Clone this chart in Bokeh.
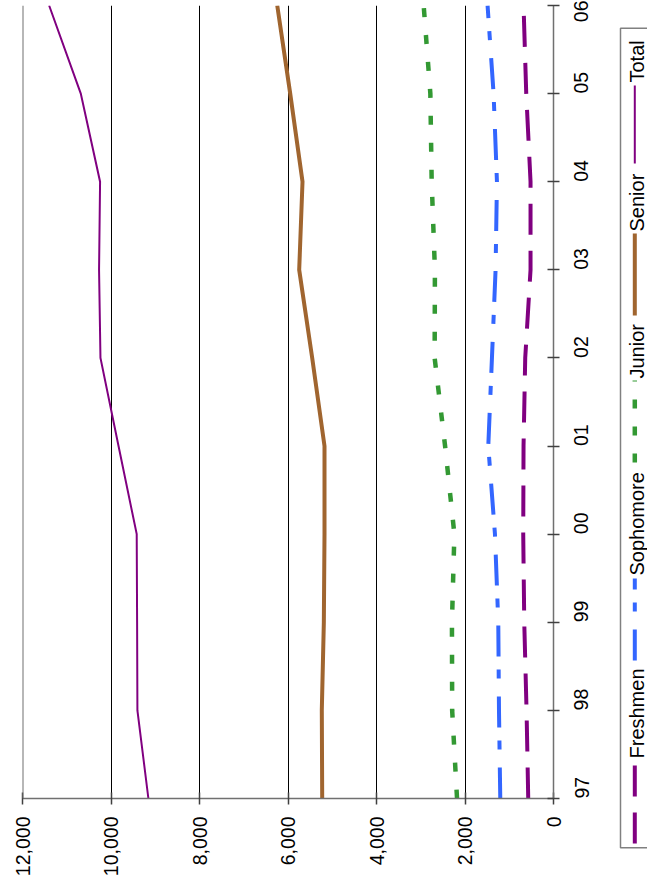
import math
from bokeh.plotting import figure
from bokeh.models import Range1d, FixedTicker, NumeralTickFormatter, Span
from bokeh.layouts import row
from bokeh.embed import file_html
from bokeh.resources import INLINE
from bokeh.core.properties import value

# ---- data ----
years = ["97", "98", "99", "00", "01", "02", "03", "04", "05", "06"]
freshmen = [571, 609, 661, 684, 677, 639, 519, 519, 616, 677]
sophomore = [1203, 1232, 1248, 1323, 1474, 1391, 1309, 1278, 1354, 1490]
junior = [2180, 2290, 2295, 2240, 2450, 2686, 2680, 2753, 2783, 2934]
senior = [5227, 5236, 5190, 5175, 5175, 5453, 5747, 5672, 5950, 6243]
total = [9155, 9403, 9410, 9419, 9830, 10238, 10270, 10247, 10683, 11398]
value_ticks = [0, 2000, 4000, 6000, 8000, 10000, 12000]
series_names = ["Freshmen", "Sophomore", "Junior", "Senior", "Total"]

# ---- styles ----
FONT = "Liberation Sans"
FS = "19.5px"
LEG_FS = "20px"
styles = {
    "Freshmen": dict(color="#800080", width=4, dash="31 16"),
    "Sophomore": dict(color="#3366FF", width=4, dash="31 18 9 13"),
    "Junior": dict(color="#339933", width=4.5, dash="9 18"),
    "Senior": dict(color="#A0652F", width=4, dash="solid"),
    "Total": dict(color="#800080", width=2, dash="solid"),
}
series_values = [freshmen, sophomore, junior, senior, total]

idx = list(range(len(years)))
TOTAL_H = 883

p = figure(frame_width=531, frame_height=793,
           x_range=Range1d(12000, 0), y_range=Range1d(0, len(years) - 1),
           y_axis_location="right", output_backend="svg", toolbar_location=None,
           min_border_left=22, min_border_right=59, min_border_top=5,
           min_border_bottom=TOTAL_H - 5 - 793)
p.outline_line_color = None
p.background_fill_color = "white"

# value axis (bottom)
p.xaxis.ticker = FixedTicker(ticks=value_ticks)
p.xaxis.formatter = NumeralTickFormatter(format="0,0")
p.xaxis.major_label_orientation = math.pi / 2
p.xaxis.major_label_standoff = 12

# category axis (right)
p.yaxis.ticker = FixedTicker(ticks=idx)
p.yaxis.major_label_overrides = {i: y for i, y in enumerate(years)}
p.yaxis.major_label_orientation = math.pi / 2
p.yaxis.major_label_standoff = 22

for ax in (p.xaxis, p.yaxis):
    ax.axis_line_color = "#707070"
    ax.axis_line_width = 1.5
    ax.major_tick_line_color = "#404040"
    ax.major_tick_line_width = 1.5
    ax.major_tick_in = 6
    ax.major_tick_out = 6
    ax.minor_tick_line_color = None
    ax.major_label_text_font = FONT
    ax.major_label_text_font_size = FS
    ax.major_label_text_color = "black"

p.xgrid.ticker = FixedTicker(ticks=[t for t in value_ticks if 0 < t < 12000])
p.xgrid.grid_line_color = "black"
p.xgrid.grid_line_width = 1
p.ygrid.visible = False
p.add_layout(Span(location=12000, dimension="height", line_color="#707070", line_width=2))

for name, vals in zip(series_names, series_values):
    st = styles[name]
    p.line(x=vals, y=idx, line_color=st["color"], line_width=st["width"],
           line_dash=st["dash"], line_join="miter")

# ---- rotated legend panel (coordinates = page pixels) ----
lg = figure(frame_width=35, frame_height=TOTAL_H,
            x_range=Range1d(612, 647), y_range=Range1d(TOTAL_H, 0),
            x_axis_location=None, y_axis_location=None,
            output_backend="svg", toolbar_location=None, min_border=0)
lg.outline_line_color = None
lg.grid.visible = False

lg.quad(left=[620], right=[700], top=[22.7], bottom=[842.3],
        fill_color=None, line_color="#808080", line_width=1.5)

legend_pos = {  # (line start, line end, text start) in page pixels
    "Freshmen": (838, 757, 753),
    "Sophomore": (655, 573, 570),
    "Junior": (457, 375, 373),
    "Senior": (310, 228, 226),
    "Total": (158, 80, 77),
}
for name in series_names:
    st = styles[name]
    y0, y1, ty = legend_pos[name]
    lg.line(x=[634.3, 634.3], y=[y0, y1], line_color=st["color"], line_width=st["width"],
            line_dash=st["dash"])
    lg.text(x=[636.0], y=[ty], text=[name], angle=math.pi / 2, text_align="left",
            text_baseline="middle", text_font=value(FONT), text_font_size=value(LEG_FS),
            text_color="black")

layout = row(p, lg)
open("out.html", "w").write(file_html(layout, INLINE))
